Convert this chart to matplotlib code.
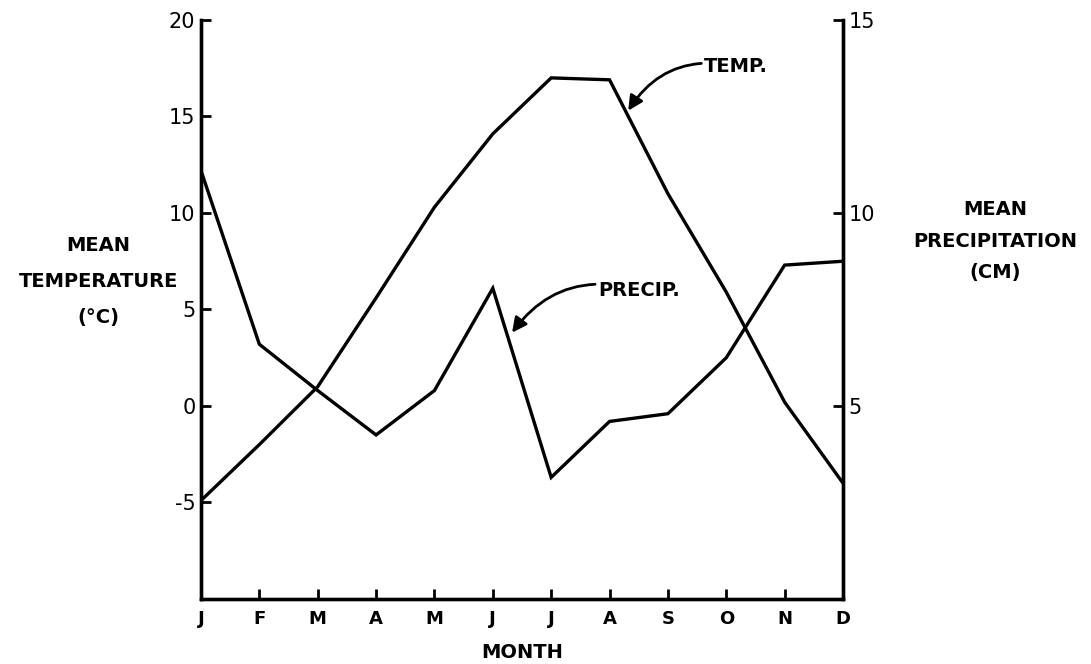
import numpy as np
import matplotlib
matplotlib.use("Agg")
import matplotlib.pyplot as plt

plt.rcParams['font.family'] = ['DejaVu Sans']

months = ['J', 'F', 'M', 'A', 'M', 'J', 'J', 'A', 'S', 'O', 'N', 'D']
temp_c = [-4.9, -2.0, 1.0, 5.6, 10.3, 14.1, 17.0, 16.9, 11.0, 5.9, 0.2, -4.0]
precip_cm = [11.1, 6.6, 5.4, 4.25, 5.4, 8.05, 3.15, 4.6, 4.8, 6.25, 8.65, 8.75]
temp_ticks = [-5, 0, 5, 10, 15, 20]
precip_ticks = [5, 10, 15]

lw = 2.4
fig = plt.figure(figsize=(10.91, 6.64), dpi=100)
ax = fig.add_axes([0.1842, 0.0979, 0.5885, 0.872])
ax2 = ax.twinx()

x = np.arange(len(months))
ax.plot(x, temp_c, color='black', lw=lw, solid_joinstyle='miter')
ax2.plot(x, precip_cm, color='black', lw=lw, solid_joinstyle='miter')

ax.set_xlim(0, 11)
ax.set_ylim(-10, 20)
ax2.set_ylim(0, 15)

for a in (ax, ax2):
    a.spines['top'].set_visible(False)
    for s in ('left', 'right', 'bottom'):
        a.spines[s].set_linewidth(2.4)

ax.set_xticks(x)
ax.set_xticklabels(months, fontsize=13, fontweight='bold')
ax.set_yticks(temp_ticks)
ax.set_yticklabels([str(t) for t in temp_ticks], fontsize=15)
ax.tick_params(axis='both', direction='in', length=7, width=2, pad=4)
ax.tick_params(axis='x', pad=8)
ax2.set_yticks(precip_ticks)
ax2.set_yticklabels([str(t) for t in precip_ticks], fontsize=15)
ax2.tick_params(axis='y', direction='in', length=7, width=2, pad=4)

ax.set_xlabel('MONTH', fontsize=14, fontweight='bold', labelpad=11)

fig.text(0.0905, 0.576, 'MEAN\nTEMPERATURE\n(°C)', ha='center', va='center',
         fontsize=14, fontweight='bold', linespacing=2.15)
fig.text(0.912, 0.637, 'MEAN\nPRECIPITATION\n(CM)', ha='center', va='center',
         fontsize=14, fontweight='bold', linespacing=1.85)

arrow = dict(arrowstyle='-|>', color='black', lw=2, mutation_scale=22,
             shrinkA=0, shrinkB=0, connectionstyle='arc3,rad=0.35')
ax.annotate('TEMP.', xy=(7.32, 15.3), xytext=(8.62, 17.6), fontsize=14,
            fontweight='bold', ha='left', va='center', arrowprops=arrow)
ax.annotate('PRECIP.', xy=(5.33, 3.8), xytext=(6.8, 6.0), fontsize=14,
            fontweight='bold', ha='left', va='center', arrowprops=arrow)

fig.savefig('out.png', dpi=100)
